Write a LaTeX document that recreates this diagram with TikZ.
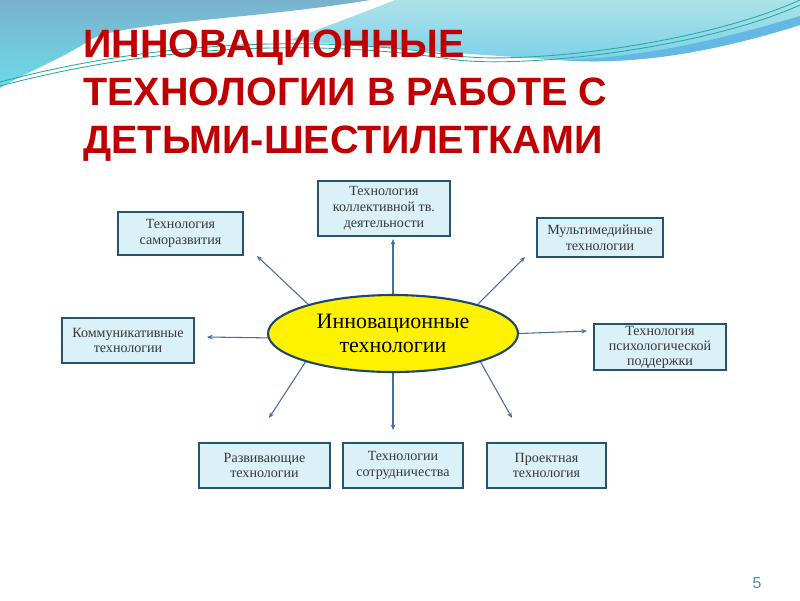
\documentclass[tikz,border=0pt]{standalone}
\usepackage{fontspec}
\setmainfont{Liberation Serif}
\newfontfamily\headfont{Liberation Sans}
\usepackage{xcolor}
\usetikzlibrary{arrows.meta,shapes.geometric,positioning,calc}

\definecolor{titlered}{RGB}{192,0,0}
\definecolor{boxfill}{RGB}{218,241,247}
\definecolor{boxline}{RGB}{36,84,112}
\definecolor{arrowblue}{RGB}{70,110,150}
\definecolor{ellline}{RGB}{30,70,110}
\definecolor{wavetop}{RGB}{122,178,205}
\definecolor{wavebot}{RGB}{108,218,234}
\definecolor{cyantop}{RGB}{172,226,232}
\definecolor{cyanbot}{RGB}{120,208,234}
\definecolor{deepband}{RGB}{100,185,228}
\definecolor{thinline}{RGB}{40,172,160}
\definecolor{boxtext}{RGB}{55,55,55}
\definecolor{pagenum}{RGB}{90,135,170}

\begin{document}
\begin{tikzpicture}[x=0.02cm, y=-0.02cm,
  techbox/.style={draw=boxline, line width=1.1pt, fill=boxfill, text=boxtext,
    align=center, inner sep=1pt, font=\fontsize{8}{9}\selectfont},
  link/.style={arrowblue, line width=0.6pt, -{Stealth[length=3.2pt, width=2.6pt]}}]
  \useasboundingbox (0,0) rectangle (800,600);
  \fill[white] (0,0) rectangle (800,600);
  % waves at the top
  \shade[top color=wavetop, bottom color=wavebot] (0,0) -- (370,0)
    .. controls (250,20) and (120,22) .. (90,40)
    .. controls (60,60) and (30,70) .. (0,88) -- cycle;
  \shade[top color=cyantop, bottom color=cyanbot] (395,0) -- (800,0) -- (800,25)
    .. controls (720,50) and (640,66) .. (560,60)
    .. controls (470,54) and (380,48) .. (290,40)
    .. controls (330,25) and (370,10) .. (395,0) -- cycle;
  \fill[deepband] (800,25) .. controls (720,50) and (640,66) .. (560,60)
    .. controls (640,58) and (720,40) .. (800,16) -- cycle;
  \draw[thinline, line width=0.5pt] (0,82) .. controls (120,50) and (280,30) .. (450,55)
    .. controls (520,66) and (700,45) .. (800,0);
  \draw[thinline, line width=0.5pt] (0,86) .. controls (120,54) and (280,34) .. (450,59)
    .. controls (520,70) and (705,48) .. (800,5);

  % title
  \node[anchor=north west, inner sep=0pt, align=left, text=titlered,
    font=\headfont\bfseries\fontsize{22.5}{27.3}\selectfont] (title) at (83,30)
    {ИННОВАЦИОННЫЕ\\ТЕХНОЛОГИИ В РАБОТЕ С\\ДЕТЬМИ-ШЕСТИЛЕТКАМИ};

  % centre
  \node[ellipse, draw=ellline, line width=1.2pt, fill=yellow, minimum width=5cm,
    minimum height=1.54cm, inner sep=0pt, align=center,
    font=\fontsize{12.5}{14}\selectfont] (innov) at (393,333.5)
    {Инновационные\\технологии};

  % boxes
  \node[techbox, minimum width=2.5cm, minimum height=0.86cm] (samo) at (180.5,233.5)
    {Технология\\саморазвития};
  \node[techbox, minimum width=2.64cm, minimum height=1.1cm] (kollekt) at (384,208.5)
    {Технология\\коллективной тв.\\деятельности};
  \node[techbox, minimum width=2.52cm, minimum height=0.78cm] (multi) at (600,237.5)
    {Мультимедийные\\технологии};
  \node[techbox, minimum width=2.64cm, minimum height=0.9cm] (kommun) at (128,340.5)
    {Коммуникативные\\технологии};
  \node[techbox, minimum width=2.64cm, minimum height=0.92cm,
    font=\fontsize{8}{8.5}\selectfont] (psych) at (660,347)
    {Технология\\психологической\\поддержки};
  \node[techbox, minimum width=2.62cm, minimum height=0.9cm] (razv) at (264.5,465.5)
    {Развивающие\\технологии};
  \node[techbox, minimum width=2.4cm, minimum height=0.9cm] (sotrud) at (403,465.5)
    {Технологии\\сотрудничества};
  \node[techbox, minimum width=2.38cm, minimum height=0.9cm] (proekt) at (546.5,465.5)
    {Проектная\\технология};

  % arrow ends
  \coordinate (tSamo) at (257,256);
  \coordinate (tKollekt) at (393,239);
  \coordinate (tMulti) at (525,257);
  \coordinate (tKommun) at (207,337);
  \coordinate (tPsych) at (587,331);
  \coordinate (tRazv) at (269,418);
  \coordinate (tSotrud) at (393,430);
  \coordinate (tProekt) at (512,418);

  \draw[link] (innov.161) -- (tSamo);
  \draw[link] (innov.north) -- (tKollekt);
  \draw[link] (innov.19) -- (tMulti);
  \draw[link] (innov.182) -- (tKommun);
  \draw[link] (innov.0) -- (tPsych);
  \draw[link] (innov.198) -- (tRazv);
  \draw[link] (innov.south) -- (tSotrud);
  \draw[link] (innov.342) -- (tProekt);

  % page number
  \node[text=pagenum, font=\headfont\fontsize{9}{10}\selectfont] (pnum) at (757,583) {5};
\end{tikzpicture}
\end{document}
